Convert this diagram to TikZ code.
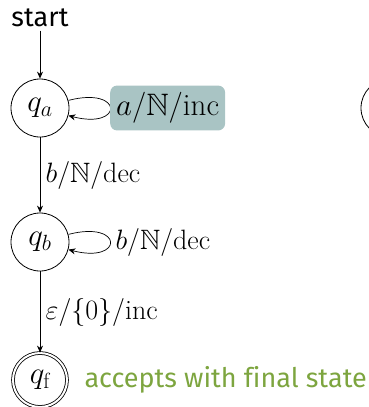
\documentclass[tikz,border=0pt]{standalone}
\usepackage{fix-cm}
\usepackage{amssymb}
\usepackage{fontspec}
\setsansfont[Ligatures=NoCommon]{Fira Sans}
\usetikzlibrary{automata,arrows.meta,positioning}
\definecolor{labelbg}{HTML}{A9C4C4}
\definecolor{notegreen}{HTML}{7DA53F}
\DeclareMathSizes{28}{28}{20}{14}
\DeclareMathSizes{31}{31}{22}{16}
\begin{document}
\begin{tikzpicture}[x=1pt,y=-1pt,
  every node/.style={font=\fontsize{28}{32}\selectfont},
  sanstext/.style={font=\fontsize{27}{32}\selectfont\sffamily},
  statenode/.style={circle,draw,line width=0.8pt,minimum size=58pt,inner sep=0pt,
    font=\fontsize{31}{36}\selectfont},
  finalnode/.style={statenode,double,double distance=2pt,minimum size=54pt},
  edge/.style={draw,line width=0.7pt,-{Stealth[length=7pt,width=6pt]}},
  hl/.style={fill=labelbg,rounded corners=7pt,inner xsep=6pt,inner ysep=7pt,
    font=\fontsize{31}{36}\selectfont}]
  \useasboundingbox (0,0) rectangle (369,407);
  \node[sanstext] (start) at (40,18) {start};
  \node[statenode] (qa) at (40,108) {$q_a$};
  \node[statenode] (qb) at (40,242) {$q_b$};
  \node[finalnode] (qf) at (40,380) {$q_{\mathrm{f}}$};
  \node[statenode] (qr) at (390,108) {};
  \draw[edge] (start) -- (qa);
  \draw[edge] (qa) -- node[right=2pt] {$b/\mathbb{N}/\mathrm{dec}$} (qb);
  \draw[edge] (qb) -- node[right=2pt] {$\varepsilon/\{0\}/\mathrm{inc}$} (qf);
  \draw[edge] (qa.15) .. controls (124,86) and (124,130) .. (qa.-15);
  \node[hl,anchor=west] (la) at (110,108) {$a/\mathbb{N}/\mathrm{inc}$};
  \draw[edge] (qb.15) .. controls (124,220) and (124,264) .. (qb.-15);
  \node[anchor=west] (lb) at (112,242) {$b/\mathbb{N}/\mathrm{dec}$};
  \node[sanstext,anchor=west,text=notegreen] (note) at (81,380) {accepts with final state};
\end{tikzpicture}
\end{document}
